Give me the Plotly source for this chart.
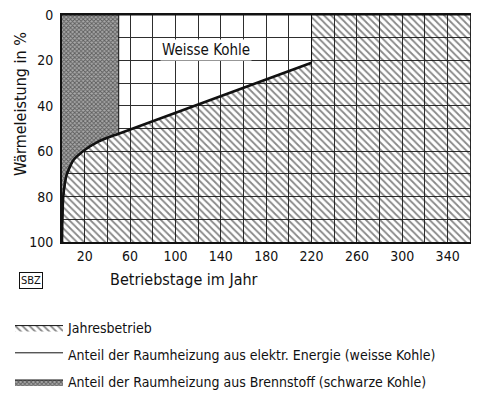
import plotly.graph_objects as go

# ---- data ----
# boundary curve of "Jahresbetrieb" (days per year vs. heat output in %)
days = [0, 0.3, 1.1, 4, 10, 20, 32, 46.5, 50, 220]
waerme = [100, 90, 80, 70.5, 64, 59.5, 55.8, 52.9, 52.3, 21]
tage_im_jahr = 365          # length of the year (right edge of the chart)
schwarz_bis = 50            # days heated with fuel (schwarze Kohle)
waerme_min, waerme_max = 0, 100

x_tickvals = list(range(0, 361, 20))
x_ticktext = ["", "20", "", "60", "", "100", "", "140", "", "180", "",
              "220", "", "260", "", "300", "", "340", ""]
y_tickvals = list(range(0, 101, 10))
y_ticktext = ["0", "", "20", "", "40", "", "60", "", "80", "", "100"]

legend_names = [
    "Jahresbetrieb",
    "Anteil der Raumheizung aus elektr. Energie (weisse Kohle)",
    "Anteil der Raumheizung aus Brennstoff (schwarze Kohle)",
]

FONT = "DejaVu Sans Condensed, Liberation Sans Narrow, DejaVu Sans, sans-serif"
INK = "#111111"

i50 = days.index(schwarz_bis)

fig = go.Figure()

# hatched: below the curve and everything after the end of the curve
fig.add_trace(go.Scatter(
    x=days + [days[-1], tage_im_jahr, tage_im_jahr],
    y=waerme + [waerme_min, waerme_min, waerme_max],
    mode="lines", fill="toself",
    fillcolor="rgba(255,255,255,0)",
    fillpattern=dict(shape="\\", size=5, solidity=0.36, fgcolor=INK,
                     bgcolor="rgba(255,255,255,0)"),
    line=dict(width=1, color=INK),
    name=legend_names[0], legendgroup="a", hoverinfo="skip",
))

# white coal area
fig.add_trace(go.Scatter(
    x=days[i50:] + [days[-1], schwarz_bis],
    y=waerme[i50:] + [waerme_min, waerme_min],
    mode="lines", fill="toself",
    fillcolor="rgba(255,255,255,0)",
    line=dict(width=1, color=INK),
    name=legend_names[1], legendgroup="b", hoverinfo="skip",
))

# black coal area
fig.add_trace(go.Scatter(
    x=days[:i50 + 1] + [schwarz_bis, 0],
    y=waerme[:i50 + 1] + [waerme_min, waerme_min],
    mode="lines", fill="toself",
    fillcolor="white",
    fillpattern=dict(shape="x", size=3, solidity=0.5, fgcolor=INK,
                     bgcolor="#a8a8a8"),
    line=dict(width=1, color=INK),
    name=legend_names[2], legendgroup="c", hoverinfo="skip",
))

# heavy boundary curve
fig.add_trace(go.Scatter(
    x=days, y=waerme, mode="lines",
    line=dict(width=2.6, color=INK, shape="spline", smoothing=0.6),
    showlegend=False, hoverinfo="skip",
))

fig.update_xaxes(
    range=[0, tage_im_jahr], tickvals=x_tickvals, ticktext=x_ticktext,
    showgrid=True, gridcolor="#2e2e2e", gridwidth=1,
    showline=True, linecolor=INK, linewidth=2, mirror=True,
    zeroline=False, ticks="", ticklen=0, ticklabelstandoff=0,
    ticklabeloverflow="allow",
    tickfont=dict(family=FONT, size=14, color=INK),
)
fig.update_yaxes(
    range=[waerme_max, waerme_min], tickvals=y_tickvals, ticktext=y_ticktext,
    showgrid=True, gridcolor="#2e2e2e", gridwidth=1,
    showline=True, linecolor=INK, linewidth=2, mirror=True,
    zeroline=False, ticks="", ticklen=0, ticklabelstandoff=4,
    ticklabeloverflow="allow",
    tickfont=dict(family=FONT, size=14, color=INK),
)

W, H = 479, 403
OFF = 8                      # page body margin: figure starts 8 px in
# wanted plot area on the page: x 62..476, y 15..242
L, T = 62 - OFF, 15 - OFF
R = W - (476 - OFF)
B = H - (242 - OFF)
PW, PH = W - L - R, H - T - B


def px(xs):
    return (xs - OFF - L) / PW


def py(ys):
    return (H - B - (ys - OFF)) / PH


fig.add_annotation(x=127, y=15.5, xref="x", yref="y", text="Weisse Kohle",
                   showarrow=False, bgcolor="white",
                   xanchor="center", yanchor="middle",
                   font=dict(family=FONT, size=15, color=INK))
fig.add_annotation(x=px(184), y=py(279), xref="paper", yref="paper",
                   text="Betriebstage im Jahr", showarrow=False,
                   xanchor="center", yanchor="middle",
                   font=dict(family=FONT, size=16, color=INK))
fig.add_annotation(x=px(20), y=py(104), xref="paper", yref="paper",
                   text="Wärmeleistung in %", textangle=-90, showarrow=False,
                   xanchor="center", yanchor="middle",
                   font=dict(family=FONT, size=16, color=INK))
fig.add_annotation(x=px(31), y=py(280), xref="paper", yref="paper",
                   text="SBZ", showarrow=False, bordercolor=INK, borderwidth=1,
                   borderpad=1, xanchor="center", yanchor="middle",
                   font=dict(family=FONT, size=11, color=INK))

fig.update_layout(
    width=W, height=H,
    margin=dict(l=L, r=R, t=T, b=B, autoexpand=False),
    paper_bgcolor="white", plot_bgcolor="white",
    showlegend=True,
    legend=dict(xref="container", yref="container",
                x=2 / W, y=(H - 304) / H, xanchor="left", yanchor="top",
                traceorder="grouped", tracegroupgap=6, itemwidth=48,
                bgcolor="rgba(0,0,0,0)",
                font=dict(family=FONT, size=14, color=INK)),
)

fig.write_html("out.html")
